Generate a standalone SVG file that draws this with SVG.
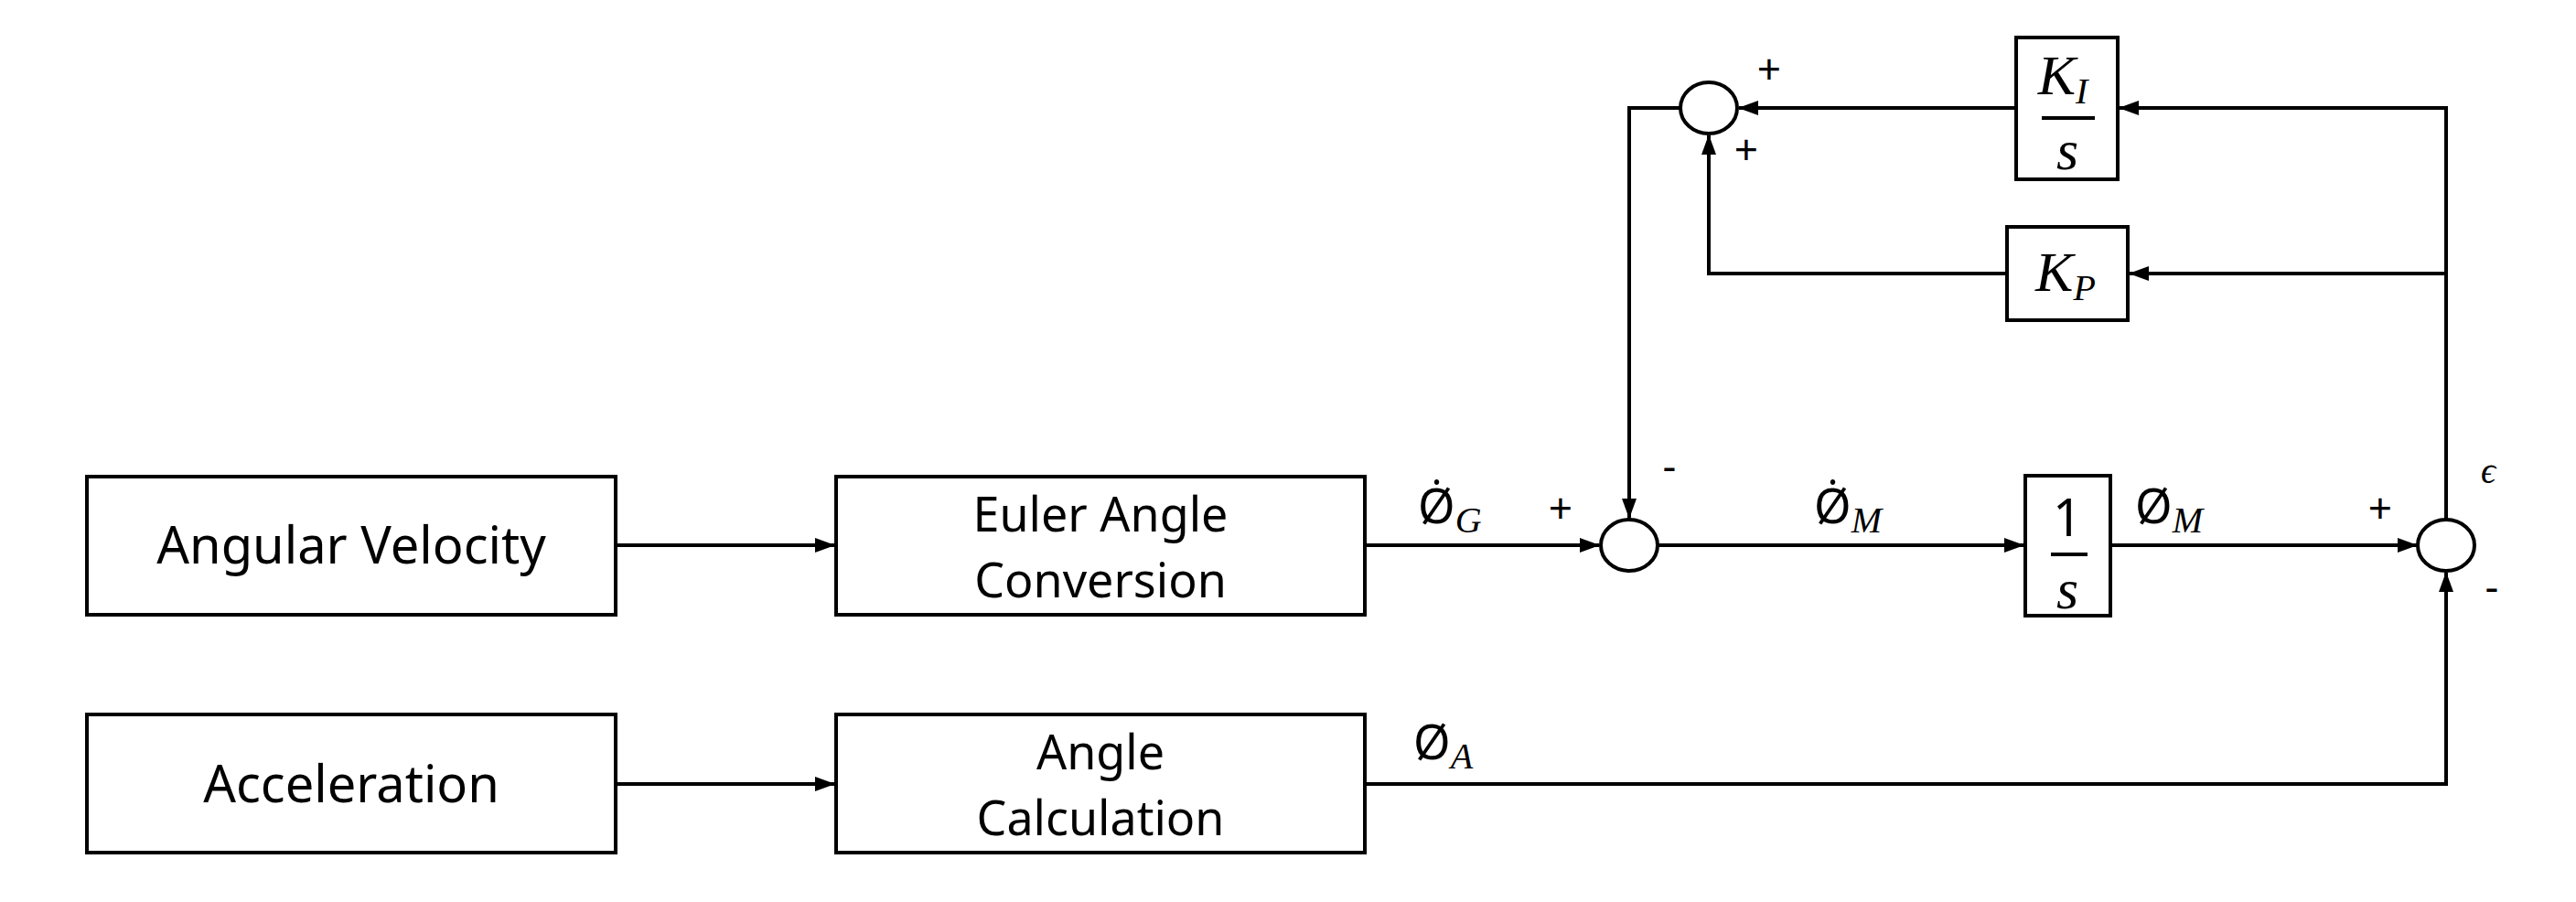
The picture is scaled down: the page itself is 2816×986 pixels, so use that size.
<svg xmlns="http://www.w3.org/2000/svg" width="2816" height="986" viewBox="0 0 2816 986">
<style>
.b{fill:#fff;stroke:#000;stroke-width:4}
.c{fill:none;stroke:#000;stroke-width:4}
.t{font-family:"Noto Sans",sans-serif;font-size:56px;text-anchor:middle}
.t2{font-family:"Noto Sans",sans-serif;font-size:52px;text-anchor:middle}
.m{font-family:"Liberation Serif",serif;font-style:italic;font-size:62px;text-anchor:middle}
.p{font-family:"Noto Sans",sans-serif;font-size:46px;text-anchor:middle}
.s{font-family:"Liberation Serif",serif;font-style:italic;font-size:40px}
.f{font-family:"Noto Sans",sans-serif;font-size:52px}
</style>
<defs><marker id="a" markerWidth="22" markerHeight="16" refX="21" refY="8" orient="auto" markerUnits="userSpaceOnUse"><path d="M0,0L22,8L0,16z"/></marker></defs>
<rect width="2816" height="986" fill="#fff"/>
<g id="connectors" class="c">
<path d="M673,596H912" marker-end="url(#a)"/>
<path d="M673,857H912" marker-end="url(#a)"/>
<path d="M1492,596H1748" marker-end="url(#a)"/>
<path d="M1812,596H2212" marker-end="url(#a)"/>
<path d="M2307,596H2642" marker-end="url(#a)"/>
<path d="M1492,857H2674V626" marker-end="url(#a)"/>
<path d="M2674,568V118H2317" marker-end="url(#a)"/>
<path d="M2674,299H2328" marker-end="url(#a)"/>
<path d="M2204,118H1901" marker-end="url(#a)"/>
<path d="M2194,299H1868V148" marker-end="url(#a)"/>
<path d="M1837,118H1781V566" marker-end="url(#a)"/>
</g>
<g id="angular-velocity"><rect class="b" x="95" y="521" width="578" height="151"/><text class="t" x="384" y="616">Angular Velocity</text></g>
<g id="euler"><rect class="b" x="914" y="521" width="578" height="151"/><text class="t2" x="1203" y="581">Euler Angle</text><text class="t2" x="1203" y="653">Conversion</text></g>
<g id="acceleration"><rect class="b" x="95" y="781" width="578" height="151"/><text class="t" x="384" y="877">Acceleration</text></g>
<g id="angle-calc"><rect class="b" x="914" y="781" width="578" height="151"/><text class="t2" x="1203" y="841">Angle</text><text class="t2" x="1203" y="913">Calculation</text></g>
<g id="sum1"><ellipse class="b" cx="1781" cy="596" rx="31" ry="28"/></g>
<g id="sum2"><ellipse class="b" cx="1868" cy="118" rx="31" ry="28"/></g>
<g id="sum3"><ellipse class="b" cx="2674" cy="596" rx="31" ry="28"/></g>
<g id="ki"><rect class="b" x="2204" y="41" width="111" height="155"/><text class="m" x="2255" y="103">K<tspan font-size="40" dy="10">I</tspan></text><path class="c" d="M2232,129H2290"/><text class="m" x="2260" y="185">s</text></g>
<g id="kp"><rect class="b" x="2194" y="248" width="132" height="102"/><text class="m" x="2258" y="318">K<tspan font-size="40" dy="10">P</tspan></text></g>
<g id="integrator"><rect class="b" x="2214" y="520" width="93" height="153"/><text class="t" x="2260" y="586" font-family="Liberation Serif" font-size="60">1</text><path class="c" d="M2242,606H2282"/><text class="m" x="2260" y="665">s</text></g>
<g id="labels">
<text class="p" x="1934" y="92">+</text><text class="p" x="1909" y="180">+</text>
<text class="p" x="1825" y="525">-</text><text class="p" x="1706" y="572">+</text>
<text class="p" x="2602" y="572">+</text><text class="p" x="2724" y="657">-</text>
<text class="s" x="2712" y="528" font-size="46">ϵ</text>
<text class="f" x="1550" y="572">Ø̇<tspan class="s" dy="10">G</tspan></text>
<text class="f" x="1983" y="572">Ø̇<tspan class="s" dy="10">M</tspan></text>
<text class="f" x="2334" y="572">Ø<tspan class="s" dy="10">M</tspan></text>
<text class="f" x="1545" y="830">Ø<tspan class="s" dy="10">A</tspan></text>
</g>
</svg>
